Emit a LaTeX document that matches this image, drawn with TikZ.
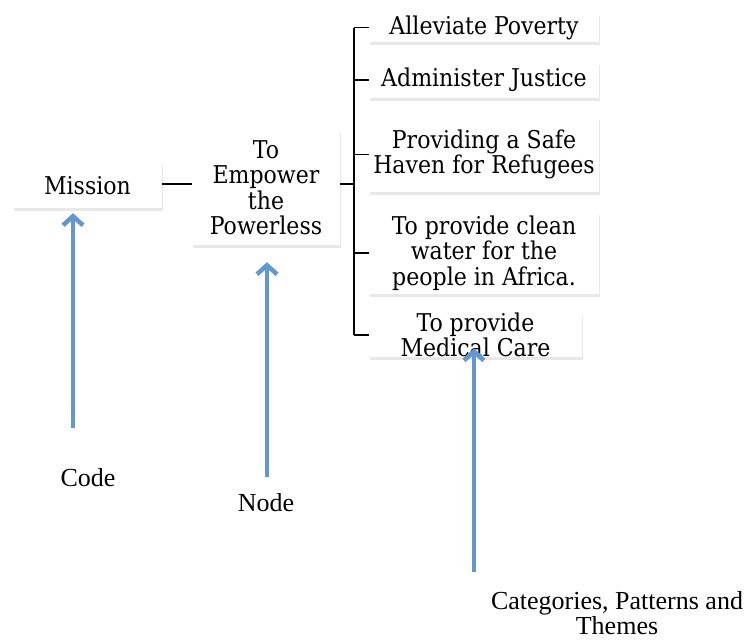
\documentclass[tikz,border=0pt]{standalone}
\usepackage{fontspec}
\setmainfont{Liberation Serif}
\newfontfamily\boxfont{DejaVu Serif Condensed}
\usetikzlibrary{arrows.meta,shadows}
\definecolor{arrowblue}{RGB}{98,151,208}
\begin{document}
\begin{tikzpicture}[x=1pt,y=-1pt,
  card/.style={fill=white, inner sep=0pt, align=center,
    drop shadow={shadow xshift=1pt,shadow yshift=-3pt,opacity=0.18},
    font=\boxfont\fontsize{24.5}{25.5}\selectfont},
  caption/.style={align=center, inner sep=0pt, font=\fontsize{26}{25}\selectfont},
  link/.style={line width=1.5pt, black},
  thinlink/.style={line width=1.1pt, black},
  pointer/.style={arrowblue, line width=4.5pt,
    -{Straight Barb[length=9pt,width=20pt]}}]
\useasboundingbox (0,0) rectangle (750,640);
\fill[white] (0,0) rectangle (750,640);

% main chain
\node[card, minimum width=149pt, minimum height=45pt] (mis) at (87.5,185.5) {Mission};
\node[card, minimum width=148pt, minimum height=115pt] (emp) at (266,187.5) {To\\Empower\\the\\Powerless};

% categories
\node[card, minimum width=230pt, minimum height=29pt] (c1) at (484,27.5) {Alleviate Poverty};
\node[card, minimum width=230pt, minimum height=36pt] (c2) at (484,80) {Administer Justice};
\node[card, minimum width=230pt, minimum height=75pt] (c3) at (484,154.5) {Providing a Safe\\Haven for Refugees};
\node[card, minimum width=230pt, minimum height=82pt] (c4) at (484,253) {To provide clean\\water for the\\people in Africa.};
\node[card, minimum width=213pt, minimum height=44pt] (c5) at (475.5,335) {To provide\\Medical Care};

% bracket
\coordinate (br) at (354,184);
\draw[thinlink] (mis.east |- br) -- (emp.west |- br);
\draw[link] (emp.east |- br) -- (br);
\draw[link] (br |- c1.west) -- (br |- c5.west);
\foreach \c in {c1,c2,c3,c4,c5}
  \draw[link] (br |- \c.west) -- (\c.west);

% captions
\node[caption] (code) at (88,478) {Code};
\node[caption] (node) at (266,503) {Node};
\node[caption] (cpt) at (617,613) {Categories, Patterns and\\Themes};

% pointers
\coordinate (t1) at (73,428);
\coordinate (t2) at (267,477);
\coordinate (t3) at (474,572);
\draw[pointer] (t1) -- ([yshift=-5pt]t1 |- mis.south);
\draw[pointer] (t2) -- ([yshift=-17pt]t2 |- emp.south);
\draw[pointer] (t3) -- ([yshift=9pt]t3 |- c5.south);
\end{tikzpicture}
\end{document}
